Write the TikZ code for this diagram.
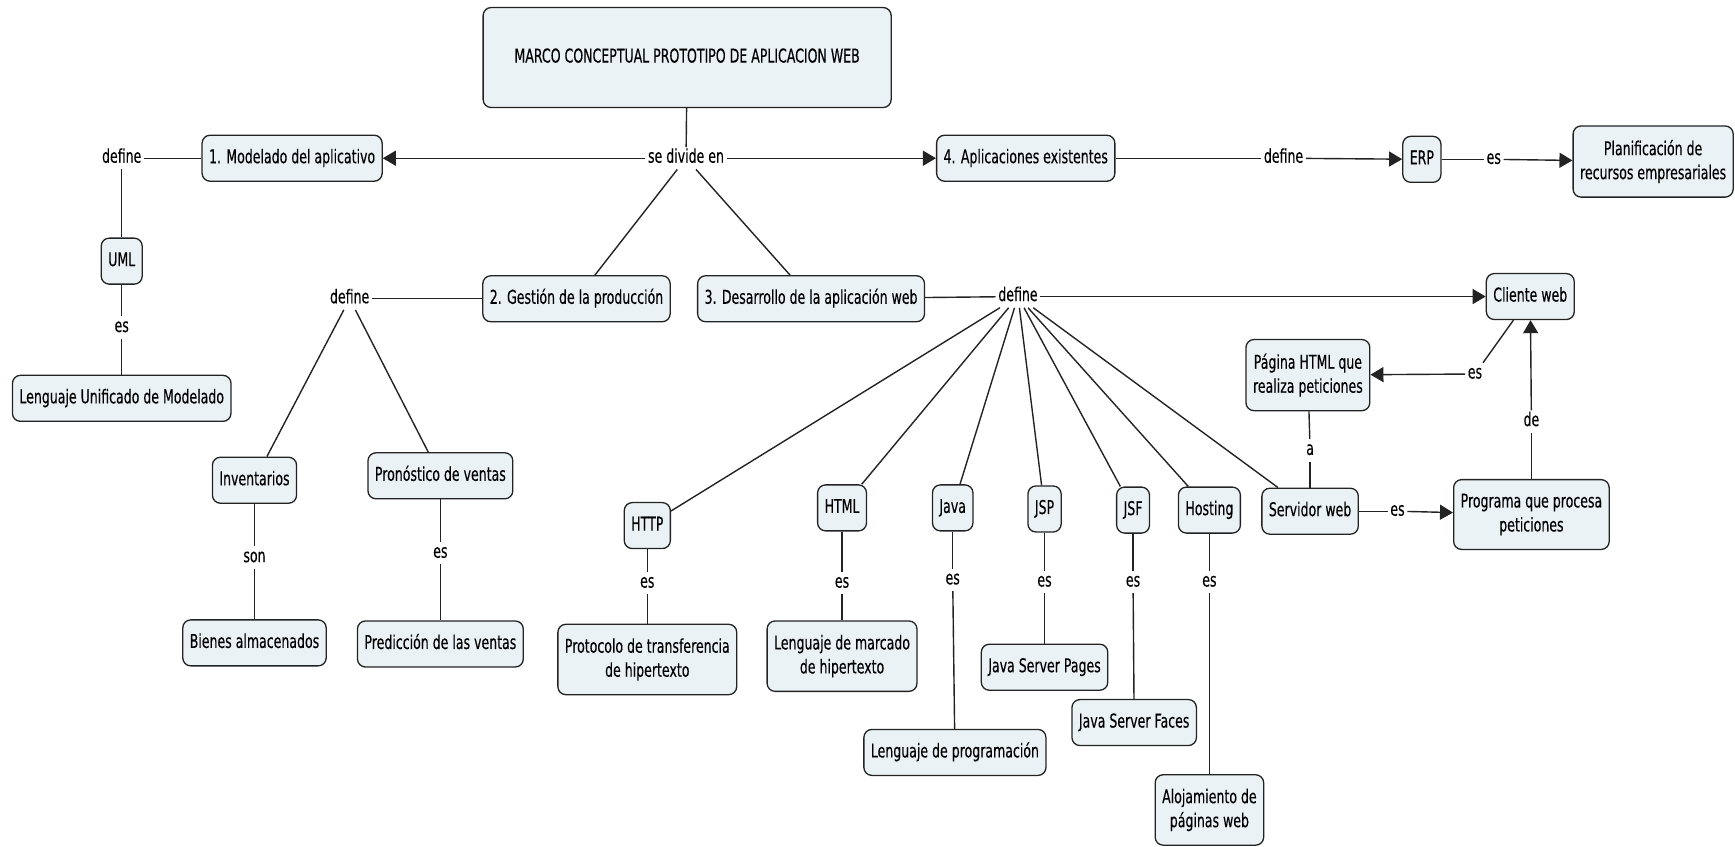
\documentclass[tikz,border=0pt]{standalone}
\usepackage{fontspec}
\setmainfont{DejaVu Sans}[FakeStretch=0.66,FakeBold=0.3]
\usetikzlibrary{arrows.meta}
\definecolor{conceptfill}{RGB}{234,242,245}
\definecolor{conceptdraw}{RGB}{35,35,35}
\begin{document}
\begin{tikzpicture}[x=1.1065pt,y=-1.1065pt,
  concept/.style={draw=conceptdraw, fill=conceptfill, rounded corners=8pt,
    line width=1.3pt, inner xsep=7pt, inner ysep=14pt, text height=14pt,
    text depth=4pt, align=center, font=\fontsize{19}{24}\selectfont},
  twoline/.style={concept, text height={}, text depth={}, inner ysep=14pt},
  linkword/.style={inner sep=2.5pt, text height=13pt, text depth=4pt,
    font=\fontsize{19}{24}\selectfont},
  conn/.style={line width=1.4pt, draw=conceptdraw},
  arr/.style={conn, -{Triangle[length=13pt,width=15pt]}}]
\useasboundingbox (0,0) rectangle (1568,765);

% concepts
\node[concept, minimum width=408pt, minimum height=100pt] (title) at (621,52) {MARCO CONCEPTUAL PROTOTIPO DE APLICACION WEB};
\node[concept] (modelado) at (264,143) {1. Modelado del aplicativo};
\node[concept] (uml) at (110,236) {UML};
\node[concept] (lum) at (110,360) {Lenguaje Unificado de Modelado};
\node[concept] (aplic) at (927,143) {4. Aplicaciones existentes};
\node[concept] (erp) at (1285,144) {ERP};
\node[twoline] (planif) at (1494,146) {Planificación de\\recursos empresariales};
\node[concept] (gestion) at (521,270) {2. Gestión de la producción};
\node[concept] (desarrollo) at (733,270) {3. Desarrollo de la aplicación web};
\node[concept] (cliente) at (1383,268) {Cliente web};
\node[concept] (invent) at (230,434) {Inventarios};
\node[concept] (pronost) at (398,430) {Pronóstico de ventas};
\node[concept] (bienes) at (230,581) {Bienes almacenados};
\node[concept] (predic) at (398,582) {Predicción de las ventas};
\node[concept] (http) at (585,475) {HTTP};
\node[twoline] (protocolo) at (585,596) {Protocolo de transferencia\\de hipertexto};
\node[concept] (html) at (761,459) {HTML};
\node[twoline] (lmarcado) at (761,593) {Lenguaje de marcado\\de hipertexto};
\node[concept] (java) at (861,459) {Java};
\node[concept] (lprog) at (863,680) {Lenguaje de programación};
\node[concept] (jsp) at (944,460) {JSP};
\node[concept] (jspages) at (944,603) {Java Server Pages};
\node[concept] (jsf) at (1024,461) {JSF};
\node[concept] (jsfaces) at (1025,653) {Java Server Faces};
\node[concept] (hosting) at (1093,461) {Hosting};
\node[twoline] (aloj) at (1093,732) {Alojamiento de\\páginas web};
\node[concept] (servidor) at (1184,462) {Servidor web};
\node[twoline] (pagina) at (1182,339) {Página HTML que\\realiza peticiones};
\node[twoline] (programa) at (1384,465) {Programa que procesa\\peticiones};

% linking words
\node[linkword] (divide) at (620,143) {se divide en};
\node[linkword] (defmod) at (110,143) {define};
\node[linkword] (esuml) at (110,296) {es};
\node[linkword] (defapl) at (1160,143) {define};
\node[linkword] (eserp) at (1350,144) {es};
\node[linkword] (defges) at (316,270) {define};
\node[linkword] (defdes) at (920,268) {define};
\node[linkword] (son) at (230,504) {son};
\node[linkword] (espro) at (398,500) {es};
\node[linkword] (eshttp) at (585,527) {es};
\node[linkword] (eshtml) at (761,527) {es};
\node[linkword] (esjava) at (861,524) {es};
\node[linkword] (esjsp) at (944,526) {es};
\node[linkword] (esjsf) at (1024,526) {es};
\node[linkword] (eshost) at (1093,526) {es};
\node[linkword] (acli) at (1184,407) {a};
\node[linkword] (escli) at (1333,338) {es};
\node[linkword] (esserv) at (1263,462) {es};
\node[linkword] (deprog) at (1384,381) {de};

% connections
\draw[conn] (title) -- (divide);
\draw[arr] (divide) -- (modelado);
\draw[arr] (divide) -- (aplic);
\draw[conn] (divide) -- (gestion);
\draw[conn] (divide) -- (desarrollo);

\draw[conn] (modelado) -- (defmod);
\draw[conn] (defmod) -- (uml);
\draw[conn] (uml) -- (esuml);
\draw[conn] (esuml) -- (lum);

\draw[conn] (aplic) -- (defapl);
\draw[arr] (defapl) -- (erp);
\draw[conn] (erp) -- (eserp);
\draw[arr] (eserp) -- (planif);

\draw[conn] (gestion) -- (defges);
\draw[conn] (defges) -- (invent);
\draw[conn] (defges) -- (pronost);
\draw[conn] (invent) -- (son);
\draw[conn] (son) -- (bienes);
\draw[conn] (pronost) -- (espro);
\draw[conn] (espro) -- (predic);

\draw[conn] (desarrollo) -- (defdes);
\draw[arr] (defdes) -- (cliente);
\foreach \t in {http,html,java,jsp,jsf,hosting,servidor}
  \draw[conn] (defdes) -- (\t);
\draw[conn] (http) -- (eshttp);
\draw[conn] (eshttp) -- (protocolo);
\draw[conn] (html) -- (eshtml);
\draw[conn] (eshtml) -- (lmarcado);
\draw[conn] (java) -- (esjava);
\draw[conn] (esjava) -- (lprog);
\draw[conn] (jsp) -- (esjsp);
\draw[conn] (esjsp) -- (jspages);
\draw[conn] (jsf) -- (esjsf);
\draw[conn] (esjsf) -- (jsfaces);
\draw[conn] (hosting) -- (eshost);
\draw[conn] (eshost) -- (aloj);

\draw[conn] (cliente) -- (escli);
\draw[arr] (escli) -- (pagina);
\draw[conn] (pagina) -- (acli);
\draw[conn] (acli) -- (servidor);
\draw[conn] (servidor) -- (esserv);
\draw[arr] (esserv) -- (programa);
\draw[conn] (programa) -- (deprog);
\draw[arr] (deprog) -- (cliente);
\end{tikzpicture}
\end{document}
